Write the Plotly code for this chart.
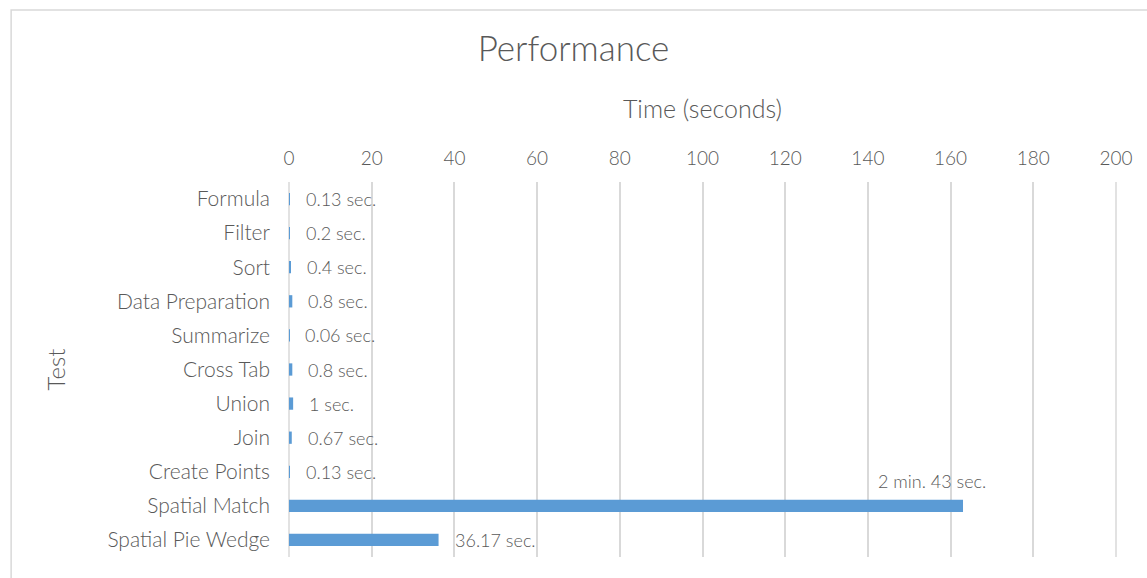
import plotly.graph_objects as go

# Test names (top to bottom) and their run times in seconds
tests = ["Formula", "Filter", "Sort", "Data Preparation", "Summarize", "Cross Tab",
         "Union", "Join", "Create Points", "Spatial Match", "Spatial Pie Wedge"]
seconds = [0.13, 0.2, 0.4, 0.8, 0.06, 0.8, 1, 0.67, 0.13, 163, 36.17]
labels = ["0.13 sec.", "0.2 sec.", "0.4 sec.", "0.8 sec.", "0.06 sec.", "0.8 sec.",
          "1 sec.", "0.67 sec.", "0.13 sec.", "2 min. 43 sec.", "36.17 sec."]
x_ticks = list(range(0, 201, 20))

FONT = "Lato"
GREY = "#595959"
BLUE = "#5B9BD5"
GRID = "#D9D9D9"

fig = go.Figure(go.Bar(
    y=tests, x=seconds, orientation="h",
    marker=dict(color=BLUE, line=dict(width=0)),
    width=0.36, hoverinfo="x+y",
))

# value labels beside each bar; the long one sits above its bar end
label_font = dict(family=FONT, size=18, color=GREY, weight=300)
annotations = []
for name, val, lab in zip(tests, seconds, labels):
    if val > 100:
        annotations.append(dict(x=val, y=name, text=lab, showarrow=False,
                                xanchor="center", yanchor="bottom",
                                xshift=-31, yshift=12, font=label_font))
    else:
        annotations.append(dict(x=val, y=name, text=lab, showarrow=False,
                                xanchor="left", yanchor="middle", xshift=14,
                                font=label_font))

# outer chart border plus gridlines on both ends of the value axis
shapes = [dict(type="path", xref="paper", yref="paper",
               path="M -0.336,-0.2 L -0.336,1.4587 L 1.1,1.4587",
               line=dict(color=GRID, width=1.5))]
for edge in (0, 1):
    shapes.append(dict(type="line", xref="paper", yref="paper",
                       x0=edge, x1=edge, y0=0, y1=1, layer="below",
                       line=dict(color=GRID, width=1.5)))

fig.update_layout(
    width=1147, height=578,
    margin=dict(l=289, r=31, t=182, b=21),
    paper_bgcolor="white", plot_bgcolor="white",
    font=dict(family=FONT, color=GREY),
    showlegend=False,
    title=dict(text="Performance", x=0.5, xanchor="center", y=0.915, yanchor="middle",
               font=dict(family=FONT, size=35, color=GREY, weight=300)),
    xaxis=dict(
        side="top", range=[0, 200], tickvals=x_ticks, ticks="",
        showgrid=True, gridcolor=GRID, gridwidth=1.5,
        zeroline=False, showline=False,
        ticklabelstandoff=12,
        tickfont=dict(family=FONT, size=19, color=GREY, weight=300),
        title=dict(text="Time (seconds)", standoff=20,
                   font=dict(family=FONT, size=25, color=GREY, weight=300)),
        fixedrange=True,
    ),
    yaxis=dict(
        autorange="reversed", categoryorder="array", categoryarray=tests,
        showgrid=False, zeroline=False, showline=False, ticks="",
        ticklabelstandoff=18,
        tickfont=dict(family=FONT, size=21, color=GREY, weight=300),
        title=dict(text="Test", standoff=34,
                   font=dict(family=FONT, size=24, color=GREY, weight=300)),
        fixedrange=True,
    ),
    annotations=annotations,
    shapes=shapes,
)

fig.write_html("out.html")
